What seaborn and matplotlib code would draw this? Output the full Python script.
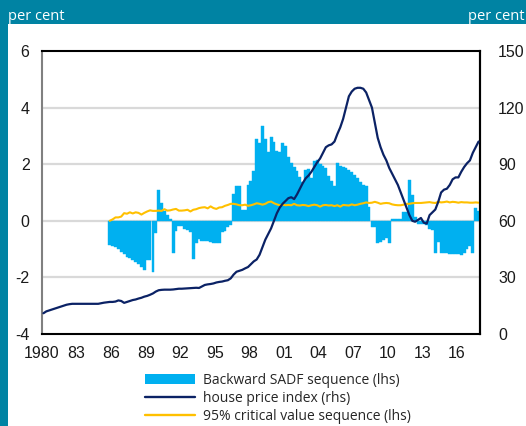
import numpy as np
import pandas as pd
import matplotlib
matplotlib.use("Agg")
import matplotlib.pyplot as plt
import seaborn as sns
from matplotlib.patches import Rectangle, Patch
from matplotlib.lines import Line2D

# ---------------- data ----------------
hpi_start = 1980.0          # first quarter of the house price index (1980Q1)
hpi = [
    11, 12, 12.5, 13,            # 1980
    13.5, 14, 14.5, 15,          # 1981
    15.5, 15.8, 16, 16,          # 1982
    16, 16, 16, 16,              # 1983
    16, 16, 16, 16,              # 1984
    16.3, 16.6, 16.8, 17,        # 1985
    17, 17.2, 17.8, 17.5,        # 1986
    16.5, 17, 17.5, 18,          # 1987
    18.3, 18.8, 19.2, 19.8,      # 1988
    20.2, 20.8, 21.5, 22.5,      # 1989
    23.2, 23.4, 23.5, 23.5,      # 1990
    23.5, 23.6, 23.8, 24,        # 1991
    24, 24.1, 24.2, 24.3,        # 1992
    24.4, 24.5, 24.4, 25.2,      # 1993
    26, 26.3, 26.5, 26.8,        # 1994
    27.3, 27.6, 27.8, 28.2,      # 1995
    28.5, 29.5, 31.5, 33,        # 1996
    33.5, 34, 34.8, 35.5,        # 1997
    37, 38.5, 39.5, 42,          # 1998
    46, 50, 53, 56,              # 1999
    60, 64, 67, 69,              # 2000
    70.5, 72, 72.5, 71.5,        # 2001
    74, 77, 80, 82.5,            # 2002
    84, 86, 88.5, 91,            # 2003
    93, 96, 99, 100,             # 2004
    100.5, 102, 106, 109.5,      # 2005
    114, 120, 126, 128.5,        # 2006
    130, 130.5, 130.5, 130,      # 2007
    128, 124, 120, 112,          # 2008
    104, 99, 95, 92,             # 2009
    88, 85, 82, 79,              # 2010
    75, 71, 67, 63,              # 2011
    60, 59.5, 60.5, 61.5,        # 2012
    59, 58.5, 63, 64.5,          # 2013
    66, 70, 75, 76.5,            # 2014
    77, 79, 82, 83,              # 2015
    83, 86, 88.5, 90.5,          # 2016
    92, 96, 99, 102,             # 2017
]

sadf_start = 1985.75        # first quarter of the SADF series (1985Q4)
bsadf = [
    -0.85, -0.88, -0.93, -1.0, -1.09, -1.18, -1.27, -1.31, -1.38, -1.44,
    -1.54, -1.62, -1.74, -1.38, -1.38, -1.8, -0.42, 1.1, 0.63, 0.35,
    0.2, 0.08, -1.15, -0.35, -0.2, -0.2, -0.3, -0.33, -0.38, -1.36,
    -0.79, -0.65, -0.72, -0.73, -0.73, -0.76, -0.77, -0.77, -0.77, -0.41,
    -0.35, -0.22, -0.14,
    0.95, 1.24, 1.22, 0.39, 0.37, 1.28, 1.42, 1.75, 2.88, 2.76,
    3.35, 2.9, 2.44, 2.95, 2.8, 2.45, 2.42, 2.74, 2.65, 2.25,
    2.05, 1.9, 1.75, 1.55, 1.38, 1.79, 1.83, 1.5, 2.1, 2.14,
    2.0, 1.93, 1.85, 1.6, 1.4, 1.22, 2.03, 1.95, 1.9, 1.85,
    1.79, 1.72, 1.62, 1.5, 1.38, 1.26, 1.22, 0.5,
    -0.22, -0.22, -0.8, -0.75, -0.67, -0.6, -0.8, 0.05, 0.05, 0.05,
    0.08, 0.31, 0.3, 1.43, 0.9, 0.15, -0.1, -0.1, -0.12, -0.15,
    -0.3, -0.34, -1.15, -0.75, -1.15, -1.15, -1.15, -1.16, -1.16, -1.17,
    -1.17, -1.22, -1.15, -1.0, -0.88, -1.15, 0.45, 0.33,
]

crit = [
    0.0, 0.05, 0.12, 0.12, 0.15, 0.27, 0.25, 0.3, 0.26, 0.3,
    0.28, 0.22, 0.28, 0.33, 0.37, 0.35, 0.35, 0.36, 0.35, 0.41,
    0.36, 0.37, 0.4, 0.42, 0.36, 0.36, 0.37, 0.39, 0.33, 0.39,
    0.41, 0.45, 0.47, 0.48, 0.44, 0.51, 0.45, 0.42, 0.47, 0.48,
    0.53, 0.56, 0.6,
    0.6, 0.58, 0.55, 0.55, 0.57, 0.53, 0.55, 0.58, 0.62, 0.6,
    0.57, 0.6, 0.66, 0.68, 0.62, 0.58, 0.55, 0.57, 0.55, 0.56,
    0.55, 0.6, 0.55, 0.54, 0.56, 0.55, 0.52, 0.55, 0.57, 0.55,
    0.5, 0.55, 0.56, 0.54, 0.55, 0.52, 0.55, 0.5, 0.56, 0.55,
    0.54, 0.58, 0.55, 0.57, 0.6, 0.62, 0.65, 0.63,
    0.64, 0.67, 0.64, 0.6, 0.62, 0.63, 0.62, 0.58, 0.56, 0.55,
    0.55, 0.57, 0.6, 0.6, 0.62, 0.63, 0.63, 0.63, 0.64, 0.65,
    0.66, 0.64, 0.63, 0.67, 0.65, 0.66, 0.68, 0.65, 0.67, 0.66,
    0.64, 0.66, 0.65, 0.65, 0.64, 0.64, 0.65, 0.64,
]

xtick_years = [1980, 1983, 1986, 1989, 1992, 1995, 1998, 2001, 2004, 2007, 2010, 2013, 2016]
xtick_labels = ["1980", "83", "86", "89", "92", "95", "98", "01", "04", "07", "10", "13", "16"]
left_ticks = [-4, -2, 0, 2, 4, 6]
right_ticks = [0, 30, 60, 90, 120, 150]
legend_labels = ["Backward SADF sequence (lhs)", "house price index (rhs)",
                 "95% critical value sequence (lhs)"]

# ---------------- style ----------------
TEAL = "#0083A3"
BLUE = "#00B0F0"
NAVY = "#0B2265"
GOLD = "#FFC000"
GRID = "#D9D9D9"

sns.set_theme(style="white")
plt.rcParams['font.family'] = ['Liberation Sans', 'DejaVu Sans']

W, H = 526, 426
fig = plt.figure(figsize=(W / 100, H / 100), dpi=100)
fig.patch.set_facecolor(TEAL)
bg = Rectangle((8 / W, 0), 1 - 8 / W, (H - 24) / H, transform=fig.transFigure,
               facecolor="white", edgecolor="none", zorder=-10)
fig.patches.append(bg)

ax = fig.add_axes([42 / W, 92 / H, 438 / W, 283 / H])
ax.set_facecolor("none")
ax.set_zorder(1)

# quarter centres
t_hpi = hpi_start + 0.125 + 0.25 * np.arange(len(hpi))
t_sadf = sadf_start + 0.125 + 0.25 * np.arange(len(bsadf))
df_sadf = pd.DataFrame({"t": t_sadf, "bsadf": bsadf, "crit": crit})
df_hpi = pd.DataFrame({"t": t_hpi, "hpi": hpi})

sns.barplot(data=df_sadf, x="t", y="bsadf", native_scale=True, width=1.0,
            color=BLUE, saturation=1, errorbar=None, ax=ax,
            edgecolor=BLUE, linewidth=0.3, zorder=2)
sns.lineplot(data=df_sadf, x="t", y="crit", color=GOLD, lw=1.5, ax=ax, zorder=3)

ax.set_xlim(1980, 2018)
ax.set_ylim(-4, 6)
ax.set_yticks(left_ticks)
ax.set_yticklabels([str(v) for v in left_ticks])
ax.set_xticks(xtick_years)
ax.set_xticklabels(xtick_labels)
ax.set_xlabel("")
ax.set_ylabel("")
for v in [-2, 0, 2, 4]:
    ax.axhline(v, color=GRID, lw=1.6, zorder=1)
ax.tick_params(axis="both", length=0, labelsize=11.5, colors="#1a1a1a", pad=9)

ax2 = ax.twinx()
ax2.set_zorder(2)
ax2.set_facecolor("none")
sns.lineplot(data=df_hpi, x="t", y="hpi", color=NAVY, lw=1.6, ax=ax2, zorder=4)
ax2.set_ylim(0, 150)
ax2.set_yticks(right_ticks)
ax2.set_yticklabels([str(v) for v in right_ticks])
ax2.set_ylabel("")
ax2.set_xlim(1980, 2018)
ax2.tick_params(axis="y", length=0, labelsize=11.5, colors="#1a1a1a", pad=13)

for s in ["top", "bottom", "right"]:
    ax.spines[s].set_color("black")
    ax.spines[s].set_linewidth(1.5)
ax.spines["left"].set_color("#808080")
ax.spines["left"].set_linewidth(1.5)
for s in ["top", "bottom", "left"]:
    ax2.spines[s].set_visible(False)
ax2.spines["right"].set_color("black")
ax2.spines["right"].set_linewidth(1.5)

handles = [Patch(facecolor=BLUE, edgecolor="none"),
           Line2D([0], [0], color=NAVY, lw=1.7),
           Line2D([0], [0], color=GOLD, lw=1.7)]
fig.legend(handles, legend_labels, loc="upper left", bbox_to_anchor=(145 / W, (H - 373) / H),
           frameon=False, borderpad=0, borderaxespad=0, handlelength=3.6, handletextpad=0.58,
           labelspacing=0.22, prop={"family": "Open Sans", "size": 10})

fig.text(8 / W, (H - 16) / H, "per cent", color="white", fontsize=10.5, va="center",
         ha="left", family="Open Sans")
fig.text(468 / W, (H - 16) / H, "per cent", color="white", fontsize=10.5, va="center",
         ha="left", family="Open Sans")

fig.savefig("out.png", dpi=100, facecolor=fig.get_facecolor())
